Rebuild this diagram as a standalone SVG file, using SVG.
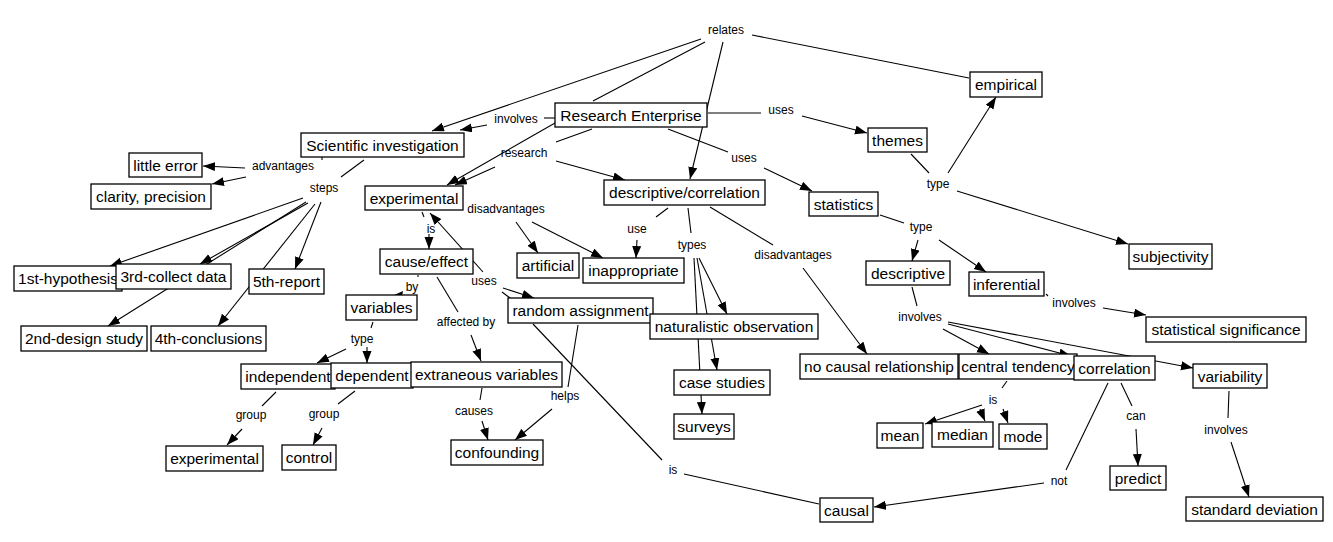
<svg xmlns="http://www.w3.org/2000/svg" width="1333" height="542" viewBox="0 0 1333 542">
<style>
.n rect{fill:#fff;stroke:#000;stroke-width:1.3}
.n text{font-family:"Liberation Sans",Arial,sans-serif;font-size:15.5px;fill:#000;text-anchor:middle}
.c line{stroke:#000;stroke-width:1.1}
.c line.a{marker-end:url(#ah)}
.lb text{font-family:"Liberation Sans",Arial,sans-serif;font-size:12px;fill:#000;text-anchor:middle}
</style>
<defs>
<marker id="ah" markerUnits="userSpaceOnUse" markerWidth="13" markerHeight="10" refX="12" refY="4.5" orient="auto">
<path d="M0,0 L12,4.5 L0,9 z" fill="#000"/>
</marker>
</defs>
<rect width="1333" height="542" fill="#fff"/>
<g id="connectors" class="c">
<line x1="593" y1="101" x2="705" y2="42"/>
<line x1="752" y1="35" x2="969" y2="78"/>
<line x1="544" y1="118" x2="555" y2="118"/>
<line x1="592" y1="129" x2="556" y2="142"/>
<line x1="708" y1="113" x2="761" y2="113"/>
<line x1="668" y1="129" x2="728" y2="152"/>
<line x1="322" y1="157" x2="322" y2="160"/>
<line x1="364" y1="160" x2="341" y2="177"/>
<line x1="422" y1="212" x2="424" y2="217"/>
<line x1="418" y1="275" x2="418" y2="277"/>
<line x1="437" y1="277" x2="458" y2="312"/>
<line x1="373" y1="322" x2="371" y2="328"/>
<line x1="276" y1="392" x2="262" y2="406"/>
<line x1="355" y1="391" x2="338" y2="404"/>
<line x1="482" y1="388" x2="480" y2="400"/>
<line x1="578" y1="325" x2="568" y2="387"/>
<line x1="533" y1="324" x2="662" y2="460"/>
<line x1="684" y1="474" x2="819" y2="504"/>
<line x1="668" y1="208" x2="656" y2="217"/>
<line x1="688" y1="208" x2="691" y2="233"/>
<line x1="710" y1="207" x2="773" y2="245"/>
<line x1="880" y1="215" x2="904" y2="223"/>
<line x1="911" y1="154" x2="929" y2="173"/>
<line x1="1046" y1="294" x2="1048" y2="296"/>
<line x1="912" y1="287" x2="917" y2="306"/>
<line x1="1007" y1="381" x2="1002" y2="388"/>
<line x1="1121" y1="383" x2="1132" y2="406"/>
<line x1="1108" y1="383" x2="1066" y2="470"/>
<line x1="1229" y1="391" x2="1228" y2="418"/>
<line x1="502" y1="292" x2="510" y2="298"/>
<line class="a" x1="701" y1="39" x2="432" y2="131"/>
<line class="a" x1="723" y1="42" x2="690" y2="179"/>
<line class="a" x1="487" y1="125" x2="460" y2="130"/>
<line class="a" x1="555" y1="123" x2="447" y2="185"/>
<line class="a" x1="495" y1="167" x2="455" y2="185"/>
<line class="a" x1="556" y1="161" x2="625" y2="180"/>
<line class="a" x1="802" y1="116" x2="867" y2="133"/>
<line class="a" x1="764" y1="168" x2="812" y2="191"/>
<line class="a" x1="245" y1="168" x2="203" y2="166"/>
<line class="a" x1="246" y1="177" x2="212" y2="184"/>
<line class="a" x1="303" y1="198" x2="110" y2="266"/>
<line class="a" x1="306" y1="202" x2="108" y2="326"/>
<line class="a" x1="308" y1="203" x2="200" y2="264"/>
<line class="a" x1="321" y1="202" x2="295" y2="269"/>
<line class="a" x1="315" y1="204" x2="218" y2="326"/>
<line class="a" x1="429" y1="234" x2="429" y2="249"/>
<line class="a" x1="483" y1="272" x2="430" y2="213"/>
<line class="a" x1="503" y1="288" x2="534" y2="298"/>
<line class="a" x1="471" y1="335" x2="481" y2="361"/>
<line class="a" x1="346" y1="349" x2="317" y2="363"/>
<line class="a" x1="367" y1="347" x2="367" y2="363"/>
<line class="a" x1="242" y1="429" x2="227" y2="445"/>
<line class="a" x1="322" y1="428" x2="313" y2="445"/>
<line class="a" x1="482" y1="421" x2="488" y2="440"/>
<line class="a" x1="552" y1="409" x2="515" y2="440"/>
<line class="a" x1="516" y1="222" x2="538" y2="253"/>
<line class="a" x1="532" y1="222" x2="603" y2="258"/>
<line class="a" x1="637" y1="240" x2="636" y2="258"/>
<line class="a" x1="699" y1="258" x2="727" y2="314"/>
<line class="a" x1="697" y1="258" x2="717" y2="370"/>
<line class="a" x1="694" y1="258" x2="702" y2="414"/>
<line class="a" x1="803" y1="268" x2="867" y2="354"/>
<line class="a" x1="918" y1="240" x2="912" y2="261"/>
<line class="a" x1="939" y1="240" x2="986" y2="272"/>
<line class="a" x1="948" y1="173" x2="996" y2="97"/>
<line class="a" x1="957" y1="191" x2="1128" y2="244"/>
<line class="a" x1="1103" y1="308" x2="1146" y2="315"/>
<line class="a" x1="943" y1="329" x2="989" y2="354"/>
<line class="a" x1="948" y1="324" x2="1071" y2="356"/>
<line class="a" x1="948" y1="322" x2="1193" y2="368"/>
<line class="a" x1="982" y1="405" x2="925" y2="424"/>
<line class="a" x1="980" y1="409" x2="985" y2="421"/>
<line class="a" x1="1003" y1="409" x2="1008" y2="423"/>
<line class="a" x1="1136" y1="429" x2="1138" y2="466"/>
<line class="a" x1="1044" y1="483" x2="874" y2="507"/>
<line class="a" x1="1231" y1="442" x2="1249" y2="497"/>
<polygon points="392,296 403,291 402,297" fill="#000"/>
</g>
<g id="labels" class="lb">
<text x="726" y="34">relates</text>
<text x="516" y="123">involves</text>
<text x="524" y="157">research</text>
<text x="781" y="114">uses</text>
<text x="744" y="162">uses</text>
<text x="283" y="170">advantages</text>
<text x="324" y="192">steps</text>
<text x="431" y="233">is</text>
<text x="506" y="213">disadvantages</text>
<text x="637" y="233">use</text>
<text x="692" y="249">types</text>
<text x="793" y="259">disadvantages</text>
<text x="921" y="231">type</text>
<text x="938" y="188">type</text>
<text x="412" y="291">by</text>
<text x="484" y="285">uses</text>
<text x="466" y="326">affected by</text>
<text x="362" y="343">type</text>
<text x="251" y="419">group</text>
<text x="324" y="418">group</text>
<text x="474" y="415">causes</text>
<text x="565" y="400">helps</text>
<text x="673" y="474">is</text>
<text x="1074" y="307">involves</text>
<text x="920" y="321">involves</text>
<text x="993" y="404">is</text>
<text x="1136" y="420">can</text>
<text x="1059" y="485">not</text>
<text x="1226" y="434">involves</text>
</g>
<g id="research-enterprise" class="n"><rect x="555" y="103" width="152" height="24"/><text x="631" y="121">Research Enterprise</text></g>
<g id="scientific-investigation" class="n"><rect x="301" y="133" width="163" height="24"/><text x="382.5" y="151">Scientific investigation</text></g>
<g id="little-error" class="n"><rect x="129" y="153" width="73" height="24"/><text x="165.5" y="171">little error</text></g>
<g id="clarity-precision" class="n"><rect x="91" y="184" width="120" height="25"/><text x="151" y="202">clarity, precision</text></g>
<g id="experimental" class="n"><rect x="365" y="186" width="98" height="24"/><text x="414" y="204">experimental</text></g>
<g id="descriptive-correlation" class="n"><rect x="604" y="180" width="161" height="25"/><text x="684.5" y="198">descriptive/correlation</text></g>
<g id="themes" class="n"><rect x="868" y="128" width="59" height="24"/><text x="897.5" y="146">themes</text></g>
<g id="empirical" class="n"><rect x="970" y="72" width="72" height="25"/><text x="1006" y="90">empirical</text></g>
<g id="statistics" class="n"><rect x="809" y="192" width="69" height="24"/><text x="843.5" y="210">statistics</text></g>
<g id="subjectivity" class="n"><rect x="1129" y="244" width="83" height="25"/><text x="1170.5" y="262">subjectivity</text></g>
<g id="descriptive" class="n"><rect x="866" y="261" width="84" height="24"/><text x="908" y="279">descriptive</text></g>
<g id="inferential" class="n"><rect x="969" y="272" width="75" height="24"/><text x="1006.5" y="290">inferential</text></g>
<g id="statistical-significance" class="n"><rect x="1146" y="317" width="160" height="25"/><text x="1226" y="335">statistical significance</text></g>
<g id="first-hypothesis" class="n"><rect x="14" y="266" width="108" height="25"/><text x="68" y="284">1st-hypothesis</text></g>
<g id="third-collect-data" class="n"><rect x="116" y="264" width="115" height="25"/><text x="173.5" y="282">3rd-collect data</text></g>
<g id="fifth-report" class="n"><rect x="249" y="269" width="75" height="25"/><text x="286.5" y="287">5th-report</text></g>
<g id="second-design-study" class="n"><rect x="21" y="326" width="126" height="25"/><text x="84" y="344">2nd-design study</text></g>
<g id="fourth-conclusions" class="n"><rect x="151" y="326" width="115" height="25"/><text x="208.5" y="344">4th-conclusions</text></g>
<g id="cause-effect" class="n"><rect x="380" y="249" width="93" height="25"/><text x="426.5" y="267">cause/effect</text></g>
<g id="artificial" class="n"><rect x="517" y="253" width="62" height="25"/><text x="548" y="271">artificial</text></g>
<g id="inappropriate" class="n"><rect x="583" y="258" width="101" height="25"/><text x="633.5" y="276">inappropriate</text></g>
<g id="variables" class="n"><rect x="346" y="295" width="71" height="25"/><text x="381.5" y="313">variables</text></g>
<g id="random-assignment" class="n"><rect x="508" y="298" width="145" height="25"/><text x="580.5" y="316">random assignment</text></g>
<g id="naturalistic-observation" class="n"><rect x="650" y="314" width="168" height="25"/><text x="734" y="332">naturalistic observation</text></g>
<g id="independent" class="n"><rect x="241" y="364" width="94" height="25"/><text x="288" y="382">independent</text></g>
<g id="dependent" class="n"><rect x="331" y="363" width="82" height="25"/><text x="372" y="381">dependent</text></g>
<g id="extraneous-variables" class="n"><rect x="411" y="362" width="151" height="25"/><text x="486.5" y="380">extraneous variables</text></g>
<g id="experimental-group" class="n"><rect x="166" y="446" width="97" height="25"/><text x="214.5" y="464">experimental</text></g>
<g id="control" class="n"><rect x="282" y="445" width="54" height="25"/><text x="309" y="463">control</text></g>
<g id="confounding" class="n"><rect x="451" y="440" width="92" height="25"/><text x="497" y="458">confounding</text></g>
<g id="case-studies" class="n"><rect x="674" y="370" width="96" height="25"/><text x="722" y="388">case studies</text></g>
<g id="surveys" class="n"><rect x="674" y="414" width="60" height="25"/><text x="704" y="432">surveys</text></g>
<g id="causal" class="n"><rect x="820" y="498" width="53" height="24"/><text x="846.5" y="516">causal</text></g>
<g id="no-causal-relationship" class="n"><rect x="800" y="354" width="158" height="25"/><text x="879" y="372">no causal relationship</text></g>
<g id="central-tendency" class="n"><rect x="959" y="354" width="118" height="25"/><text x="1018" y="372">central tendency</text></g>
<g id="correlation" class="n"><rect x="1074" y="356" width="81" height="24"/><text x="1114.5" y="374">correlation</text></g>
<g id="variability" class="n"><rect x="1193" y="364" width="74" height="24"/><text x="1230" y="382">variability</text></g>
<g id="mean" class="n"><rect x="877" y="423" width="46" height="25"/><text x="900" y="441">mean</text></g>
<g id="median" class="n"><rect x="932" y="422" width="61" height="25"/><text x="962.5" y="440">median</text></g>
<g id="mode" class="n"><rect x="999" y="424" width="48" height="25"/><text x="1023" y="442">mode</text></g>
<g id="predict" class="n"><rect x="1110" y="466" width="56" height="24"/><text x="1138" y="484">predict</text></g>
<g id="standard-deviation" class="n"><rect x="1186" y="497" width="137" height="24"/><text x="1254.5" y="515">standard deviation</text></g>
</svg>
